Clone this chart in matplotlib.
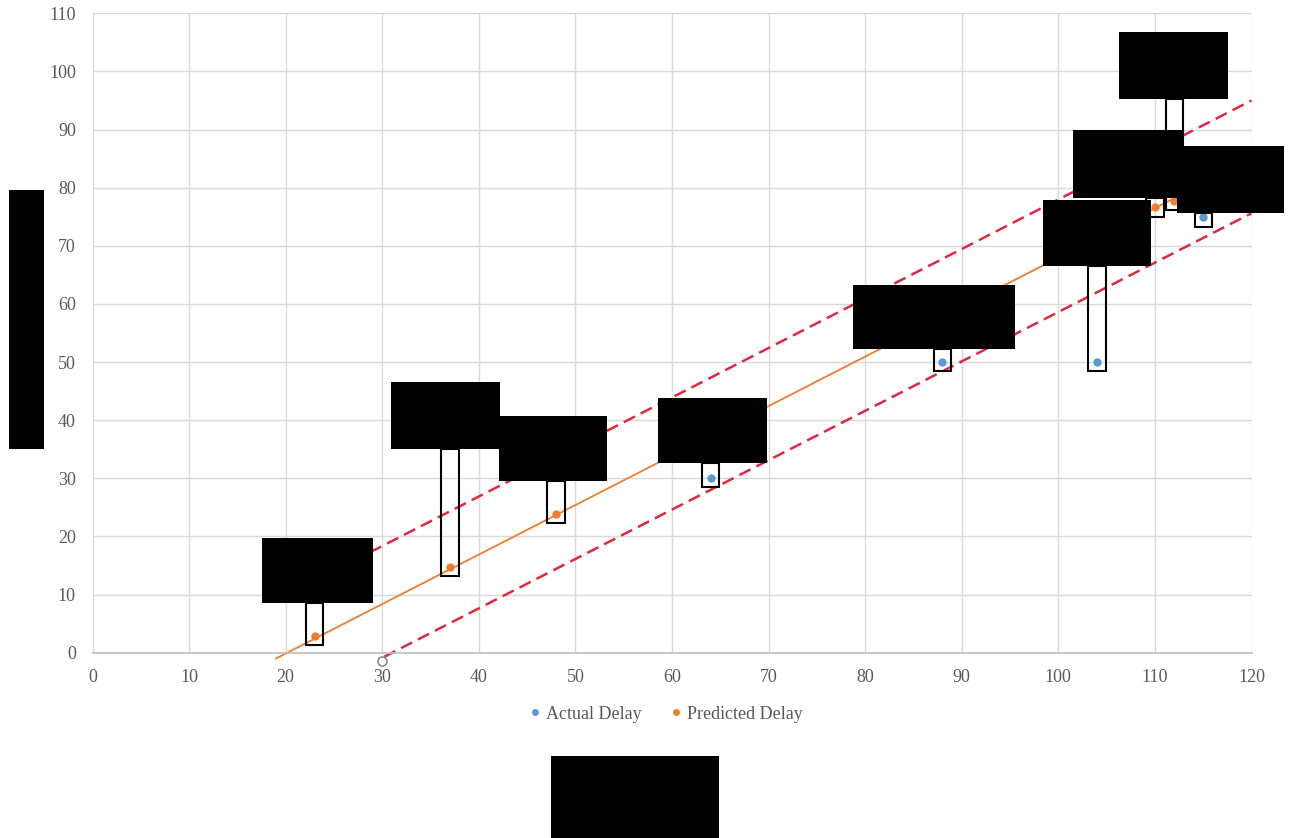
import matplotlib
matplotlib.use("Agg")
import matplotlib.pyplot as plt
from matplotlib.patches import Rectangle

# ---- data ----
actual_x = [64, 88, 104, 115]
actual_y = [30.1, 50.0, 50.0, 74.9]
pred_x = [23, 37, 48, 110, 112]
pred_y = [2.9, 14.8, 23.9, 76.6, 77.7]

# fitted line and its upper / lower bounds (end points)
fit_x = [19.0, 120.0]
fit_y = [-1.0, 85.0]
upper_x = [27.0, 120.0]
upper_y = [15.8, 95.0]
lower_x = [30.2, 120.0]
lower_y = [-0.7, 75.6]
origin_pt = (30.0, -1.4)

x_ticks = list(range(0, 121, 10))
y_ticks = list(range(0, 111, 10))
legend_labels = ["Actual Delay", "Predicted Delay"]

# ---- label boxes (x0, y0, x1, y1) for each labelled point, in data units ----
labelled = [(23, 2.9), (37, 14.8), (48, 23.9), (64, 30.1), (88, 50.0),
            (104, 50.0), (110, 76.6), (112, 77.7), (115, 74.9)]
label_boxes = [
    (17.6, 8.5, 29.0, 19.8),
    (30.9, 35.0, 42.2, 46.5),
    (42.1, 29.5, 53.3, 40.7),
    (58.6, 32.6, 69.8, 43.8),
    (78.7, 52.2, 95.5, 63.2),
    (98.4, 66.5, 109.6, 77.9),
    (101.5, 78.2, 112.9, 89.9),
    (106.3, 95.3, 117.6, 106.7),
    (112.3, 75.6, 123.4, 87.1),
]

BLUE = "#5b9bd5"
ORANGE = "#ed7d31"
RED = "#e0283f"
GRID = "#d9d9d9"
TXT = "#595959"
FONT = "Liberation Serif"

W, H = 1291, 838
fig = plt.figure(figsize=(W / 100, H / 100), dpi=100)
ax = fig.add_axes([92.5 / W, 1 - 652.7 / H, (1251.5 - 92.5) / W, (652.7 - 13.3) / H])

ax.set_xlim(0, 120)
ax.set_ylim(0, 110)
ax.set_xticks(x_ticks)
ax.set_yticks(y_ticks)
ax.grid(True, color=GRID, linewidth=1.0, zorder=0)
ax.set_axisbelow(True)
for s in ["top", "right", "left"]:
    ax.spines[s].set_visible(False)
ax.spines["bottom"].set_color("#bfbfbf")
ax.spines["bottom"].set_linewidth(1.2)
ax.tick_params(length=0, labelsize=13, labelcolor=TXT, pad=12)
for lab in ax.get_xticklabels() + ax.get_yticklabels():
    lab.set_fontfamily(FONT)

# fitted line and bounds
ax.plot(fit_x, fit_y, color=ORANGE, lw=1.3, clip_on=False, zorder=2)
ax.plot(upper_x, upper_y, color=RED, lw=1.8, dashes=(5, 2.6), clip_on=False, zorder=2)
ax.plot(lower_x, lower_y, color=RED, lw=1.8, dashes=(5, 2.6), clip_on=False, zorder=2)
ax.plot([origin_pt[0]], [origin_pt[1]], marker="o", ms=6.5, mfc="none",
        mec="#8c8c8c", mew=1.2, clip_on=False, zorder=3)

# points
ax.plot(actual_x, actual_y, "o", color=BLUE, ms=5, zorder=4, label=legend_labels[0])
ax.plot(pred_x, pred_y, "o", color=ORANGE, ms=5, zorder=4, label=legend_labels[1])

# callout connectors and label boxes
for (px, py), (x0, y0, x1, y1) in zip(labelled, label_boxes):
    ax.add_patch(Rectangle((px - 0.9, py - 1.6), 1.8, y0 - (py - 1.6),
                           fill=False, ec="black", lw=1.5, zorder=5, clip_on=False))
for (x0, y0, x1, y1) in label_boxes:
    ax.add_patch(Rectangle((x0, y0), x1 - x0, y1 - y0, fc="black", ec="black",
                           lw=0, zorder=6, clip_on=False))

# axis title boxes
fig.patches.append(Rectangle((9 / W, 1 - 449 / H), 35 / W, 259 / H,
                             transform=fig.transFigure, fc="black", ec="none"))
fig.patches.append(Rectangle((551 / W, 0), 168 / W, 82 / H,
                             transform=fig.transFigure, fc="black", ec="none"))

leg = fig.legend(loc="center", bbox_to_anchor=(666 / W, 1 - 714 / H), ncol=2,
                 frameon=False, handlelength=0.6, handletextpad=0.3,
                 columnspacing=1.6, markerscale=0.8,
                 prop={"family": FONT, "size": 13})
for t in leg.get_texts():
    t.set_color(TXT)

fig.savefig("out.png", dpi=100)
